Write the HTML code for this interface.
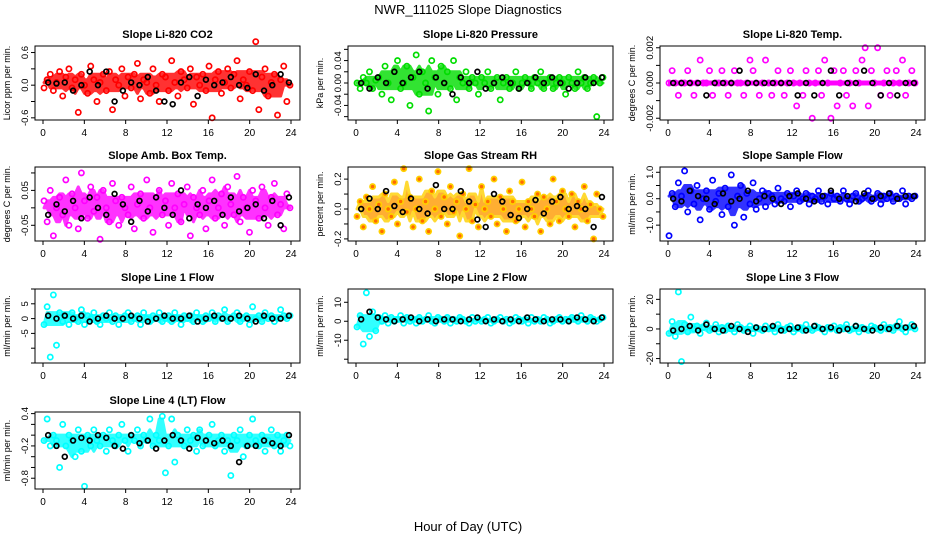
<!DOCTYPE html>
<html><head><meta charset="utf-8"><style>
body{margin:0;background:#fff}
svg{display:block;font-family:"Liberation Sans",Arial,sans-serif}
</style></head><body>
<svg id="chart" width="936" height="540" viewBox="0 0 936 540">
<text x="468" y="14" text-anchor="middle" font-size="13">NWR_111025  Slope Diagnostics</text>
<text x="468" y="531" text-anchor="middle" font-size="13">Hour of Day (UTC)</text>
</svg>
<script>
// ---- data ----
const xTicks = [0,4,8,12,16,20,24];
const titles = ["Slope Li-820 CO2","Slope Li-820 Pressure","Slope Li-820 Temp.","Slope Amb. Box Temp.","Slope Gas Stream RH","Slope Sample Flow","Slope Line 1 Flow","Slope Line 2 Flow","Slope Line 3 Flow","Slope Line 4 (LT) Flow"];
const yTitles = ["Licor ppm per min.","kPa per min.","degrees C per min.","degrees C per min.","percent per min.","ml/min per min.","ml/min per min.","ml/min per min.","ml/min per min.","ml/min per min."];
const colors = ["#ff0000","#00dd00","#ff00ff","#ff00ff","#ffa500","#0000ff","#00ffff","#00ffff","#00ffff","#00ffff"];
const yDomains = [[-0.64,0.72],[-0.066,0.066],[-0.0021,0.0021],[-0.095,0.117],[-0.214,0.281],[-1.6,1.2],[-15,10],[-22,17],[-23,27],[-1.0,0.43]];
const yTickVals = [[-0.6,-0.3,0,0.3,0.6],[-0.06,-0.04,-0.02,0,0.02,0.04,0.06],[-0.002,-0.001,0,0.001,0.002],[-0.1,-0.05,0,0.05,0.1],[-0.2,-0.1,0,0.1,0.2],[-1,-0.5,0,0.5,1],[-15,-10,-5,0,5,10],[-20,-10,0,10],[-20,-10,0,10,20],[0.4,0.2,0,-0.2,-0.4,-0.6,-0.8]];
const yTickLabels = [["-0.6","","0.0","","0.6"],["","-0.04","","0.00","","0.04",""],["-0.002","","0.000","","0.002"],["","-0.05","","0.05",""],["-0.2","","0.0","","0.2"],["-1.0","","0.0","","1.0"],["","","-5","0","5",""],["","-10","0","10"],["-20","","0","","20"],["0.4","","","-0.2","","","-0.8"]];

const colored0 = [-0.05,0.1,0.2,-0.1,0.05,0.25,-0.2,0.15,0.3,-0.05,0.1,-0.5,0.2,0.0,-0.15,0.35,0.1,-0.3,0.05,0.2,-0.1,0.25,-0.45,0.1,0.0,0.3,-0.2,0.15,-0.05,0.2,0.4,-0.25,0.1,0.05,-0.15,0.3,0.0,-0.3,0.2,0.15,-0.1,0.45,0.05,-0.2,0.25,0.1,-0.05,0.3,-0.35,0.15,0.0,0.2,-0.1,0.35,-0.6,0.1,0.25,-0.15,0.05,0.3,-0.05,0.2,0.45,-0.25,0.1,0.0,0.25,-0.1,0.8,-0.45,0.15,0.3,-0.2,0.05,0.2,-0.55,0.1,0.35,-0.3,0.0];
const black0 = [0.05,0.03,0.05,-0.1,0.0,0.25,0.0,0.25,-0.3,-0.1,0.05,0.0,0.15,-0.1,-0.3,-0.35,0.05,0.15,-0.2,0.1,0.0,0.05,0.15,0.0,-0.05,0.2,-0.1,0.0,0.2,0.05];
const colored1 = [0.0,-0.01,0.01,0.0,0.02,-0.01,0.005,0.01,-0.02,0.03,0.0,-0.03,0.02,0.04,-0.01,0.0,0.03,-0.04,0.01,0.05,-0.02,0.02,0.0,-0.05,0.04,0.01,-0.02,0.03,0.0,0.02,-0.01,0.04,-0.03,0.01,0.0,0.02,-0.01,0.01,0.0,-0.02,0.01,0.0,0.02,-0.01,0.0,0.01,-0.03,0.0,0.01,-0.01,0.0,0.02,-0.01,0.0,0.01,0.0,-0.01,0.01,0.0,0.02,-0.01,0.0,0.01,-0.01,0.0,0.01,0.0,-0.02,0.01,0.0,-0.01,0.02,0.0,0.01,-0.01,0.0,0.01,-0.06,0.0,0.01];
const black1 = [0.0,-0.01,0.01,0.0,0.02,0.0,0.01,0.02,-0.01,0.01,0.0,-0.02,0.01,0.0,0.02,-0.01,0.0,0.01,0.0,-0.01,0.0,0.01,0.0,0.01,0.0,-0.01,0.0,0.01,0.0,0.01];
const colored2 = [0,0.0007,0,-0.0007,0,0,0.0007,0,-0.0007,0,0.0013,0,0,0.0007,-0.0007,0,0,0.0007,0,-0.0007,0,0.0007,0,0,-0.0007,0,0.0013,0.0007,0,-0.0007,0,0.0013,0,-0.0007,0,0.0007,0,-0.0007,0,0.0007,0,-0.0013,0,-0.0007,0.0007,0,-0.002,0,0.0007,-0.0007,0.0013,0,-0.002,0.0007,-0.0013,0,0.0007,-0.0007,0,-0.0013,0.0007,0,0.0013,0.002,-0.0013,0.0007,0,0.002,-0.0007,0,0.0007,-0.0007,0,0.0007,0,0.0013,-0.0007,0,0.0007,0];
const black2 = [0,0,0,0,-0.0007,0,0,0,0.0007,0,0,0,0,0,0,-0.0007,0,-0.0007,0,0.0007,-0.0007,0,0,0.0007,0,-0.0007,0,-0.0007,0,0];
const colored3 = [0.02,-0.04,0.05,-0.08,0.0,0.03,-0.02,0.08,-0.05,0.04,0.0,-0.06,0.1,0.02,-0.03,0.06,-0.01,0.03,-0.09,0.05,0.0,-0.04,0.07,0.02,-0.05,0.03,0.0,-0.02,0.06,-0.06,0.01,0.04,-0.03,0.08,0.0,-0.07,0.03,0.05,-0.02,0.02,-0.05,0.07,0.0,0.04,-0.04,0.01,0.06,-0.08,0.03,0.0,-0.02,0.05,-0.06,0.02,0.08,-0.03,0.0,0.04,-0.05,0.06,0.01,-0.02,0.09,-0.04,0.03,0.0,-0.07,0.05,0.02,-0.03,0.06,0.0,-0.05,0.03,0.07,-0.02,0.01,-0.06,0.04,0.0];
const black3 = [-0.02,0.01,-0.01,0.02,-0.03,0.03,0.0,-0.02,0.04,0.01,-0.04,0.02,-0.01,0.03,0.0,-0.02,0.05,-0.03,0.01,0.0,0.02,-0.02,0.03,-0.01,0.0,0.01,-0.03,0.02,-0.05,0.03];
const colored4 = [-0.05,0.05,-0.12,0.08,0.0,0.15,-0.08,0.03,-0.15,0.1,0.0,-0.05,0.18,-0.1,0.05,0.27,-0.02,0.08,-0.12,0.0,0.2,-0.08,0.05,-0.15,0.12,0.0,0.25,-0.05,0.08,-0.1,0.15,-0.02,0.05,-0.18,0.1,0.0,0.27,-0.08,0.03,-0.12,0.15,0.0,0.05,-0.05,0.2,-0.1,0.08,0.0,-0.15,0.12,0.05,-0.08,0.0,0.18,-0.12,0.05,0.0,-0.05,0.1,-0.15,0.08,0.0,-0.1,0.2,0.05,-0.08,0.12,0.0,-0.05,0.1,-0.12,0.05,0.0,0.15,-0.08,0.03,-0.2,0.1,0.0,-0.05];
const black4 = [0.0,0.07,0.0,0.12,0.02,-0.02,0.07,0.0,-0.03,0.16,0.0,0.0,0.12,0.05,-0.07,-0.12,0.1,0.05,-0.04,-0.06,0.0,0.06,-0.03,0.05,0.08,0.0,0.02,0.0,-0.12,0.08];
const colored5 = [-1.4,0.2,-0.3,0.6,0.1,1.05,-0.5,0.3,-0.2,0.5,-0.8,0.0,0.3,-0.4,0.7,-0.1,0.2,-0.6,0.4,-0.3,0.9,-1.0,0.1,0.5,-0.7,0.2,-0.2,0.6,-0.4,0.0,0.3,-0.3,0.2,0.1,-0.2,0.4,0.0,-0.1,0.2,-0.3,0.1,0.3,-0.1,0.0,0.2,-0.2,0.1,0.0,0.3,-0.1,0.1,-0.2,0.2,0.0,0.1,-0.1,0.3,0.0,-0.2,0.1,0.2,-0.1,0.0,0.1,0.3,-0.1,0.0,0.2,-0.2,0.1,0.0,0.2,-0.1,0.1,0.0,0.3,-0.2,0.1,0.0,0.1];
const black5 = [0.0,-0.1,0.3,0.1,0.0,-0.2,0.2,-0.1,0.0,0.3,-0.1,0.1,0.0,-0.2,0.1,0.2,0.0,-0.1,0.1,0.3,0.0,0.1,-0.1,0.2,0.0,0.1,0.2,0.0,0.1,0.1];
const colored6 = [-2,4,-13,8,-9,2,-1,1,-2,2,0,-1,3,-2,1,0,2,-1,-2,1,0,2,-1,1,-2,0,1,2,-1,0,1,-2,2,0,-1,1,0,2,-1,0,1,-1,2,0,-2,1,0,1,-1,2,0,-1,1,0,2,-1,1,0,3,-1,0,1,2,-1,0,1,-2,4,0,1,-1,2,0,1,-1,0,3,1,0,1];
const black6 = [1,0,1,0,1,-1,0,1,0,0,1,0,-1,0,1,0,0,1,-1,0,1,0,0,1,0,-1,1,0,0,1];
const colored7 = [-3,3,-12,15,-8,5,-5,2,0,3,-1,2,0,1,3,-1,2,0,1,-1,2,0,1,3,0,-1,2,1,0,2,-1,1,0,2,1,0,-1,2,0,1,0,1,2,-1,0,1,2,0,1,-1,0,2,1,0,1,-1,2,0,1,0,2,1,-1,0,1,2,0,1,0,2,1,0,3,1,0,2,1,0,1,2];
const black7 = [1,5,2,1,0,1,2,0,1,0,1,1,0,1,2,0,1,0,1,0,2,1,0,1,1,0,2,1,0,2];
const colored8 = [-3,5,-5,25,-22,3,-2,8,0,2,-3,1,4,-1,0,3,-2,1,-1,2,0,-2,3,1,-1,0,2,-3,1,0,-1,2,0,1,-2,3,0,-1,1,2,-2,0,1,-1,3,0,-1,2,1,0,-2,1,0,2,-1,1,0,3,-1,0,2,-2,1,0,-1,2,1,0,-1,3,0,1,-1,2,5,0,-2,1,3,0];
const black8 = [-1,0,2,-1,3,0,-1,2,0,-2,1,0,2,-1,0,1,-1,2,0,1,-1,0,2,0,-1,1,0,2,1,2];
const colored9 = [-0.1,0.3,-0.2,0.0,-0.1,-0.6,0.2,-0.2,0.0,-0.1,-0.4,0.1,-0.3,-0.95,0.0,-0.2,0.1,-0.1,-0.2,0.0,-0.3,0.1,-0.1,-0.2,0.0,0.2,-0.1,-0.3,0.0,-0.1,0.1,-0.2,0.0,-0.1,0.3,-0.2,0.0,-0.1,0.35,-0.7,-0.2,0.3,-0.5,0.0,-0.1,-0.2,0.1,-0.1,0.0,-0.3,0.1,-0.2,-0.1,0.0,0.2,-0.2,-0.1,0.0,-0.3,-0.1,-0.75,0.0,-0.1,0.1,-0.4,-0.2,0.0,0.3,-0.1,-0.2,0.0,-0.3,-0.1,0.1,-0.2,0.0,-0.3,-0.1,0.0,-0.2];
const black9 = [0.0,-0.2,-0.4,-0.1,-0.05,-0.1,0.0,-0.05,-0.2,-0.25,0.0,-0.15,-0.1,-0.25,-0.1,0.0,-0.1,-0.25,-0.05,-0.1,-0.15,-0.1,-0.2,-0.5,-0.2,-0.2,-0.1,-0.15,-0.2,0.0];
const coloredSeries = [colored0,colored1,colored2,colored3,colored4,colored5,colored6,colored7,colored8,colored9];
const blackSeries = [black0,black1,black2,black3,black4,black5,black6,black7,black8,black9];

// ---- layout ----
const NS = "http://www.w3.org/2000/svg";
const svg = document.getElementById('chart');
const colLeft = [35,348,660], boxW = 265;
const rowTop = [46,167,289,412], rowH = [74,74,74,77];
function el(tag, attrs, parent){const e=document.createElementNS(NS,tag);for(const k in attrs)e.setAttribute(k,attrs[k]);(parent||svg).appendChild(e);return e;}

coloredSeries.forEach((col, p) => {
  const c = p % 3, r = Math.floor(p / 3);
  const L = colLeft[c], T = rowTop[r], H = rowH[r], R = L + boxW, B = T + H;
  const g = el('g', {});
  
  
  const x0 = L + 8, x1 = R - 9;
  const xs = h => x0 + (x1 - x0) * h / 24;
  const dom = yDomains[p];
  const ys = v => B - (v - dom[0]) / (dom[1] - dom[0]) * H;
  const t = el('text', {x: (L + R) / 2, y: T - 8, 'text-anchor': 'middle', 'font-size': 11, 'font-weight': 'bold'}, g);
  t.textContent = titles[p];
  
  
  const yt = el('text', {transform: `translate(${L - 25},${(T + B) / 2}) rotate(-90)`, 'text-anchor': 'middle', 'font-size': 9}, g);
  yt.textContent = yTitles[p];
  
  
  const stroke = p === 4 ? '#ffd000' : colors[p];
  const hOf = i => 0.1 + 23.8 * i / (col.length - 1);
  if (p === 2) {
    const zl = el('line', {x1: xs(0), x2: xs(24), y1: ys(0), y2: ys(0), stroke: colors[p], 'stroke-width': 5}, g);
    
    
  } else {
    const up = [], lo = [];
    col.forEach((v, i) => {
      const w = col.slice(Math.max(0, i - 4), i + 5).slice().sort((a, b) => a - b);
      up.push([xs(hOf(i)), ys(w[w.length - 3])]);
      lo.push([xs(hOf(i)), ys(w[2])]);
    });
    const poly = up.concat(lo.reverse()).map(q => q.join(',')).join(' ');
    const env = el('polygon', {points: poly, fill: p === 4 ? '#ff9a00' : colors[p], opacity: 0.8, stroke: stroke, 'stroke-width': 3, 'stroke-linejoin': 'round'}, g);
    
    
  }
  const pts = el('g', {fill: 'none', 'stroke-width': 1.7}, g);
  
  
  col.forEach((v, i) => {
    const ci = el('circle', {cx: xs(hOf(i)), cy: ys(v), r: 2.6, stroke: stroke, fill: p === 4 ? '#ff6a00' : 'none'}, pts);
    
    
  });
  const bk = el('g', {fill: 'none', stroke: '#000', 'stroke-width': 1.7}, g);
  
  
  blackSeries[p].forEach((v, i) => {
    const h = 0.5 + 23.3 * i / (blackSeries[p].length - 1);
    const ci = el('circle', {cx: xs(h), cy: ys(v), r: 2.4}, bk);
    
    
  });
  const bx = el('rect', {x: L, y: T, width: boxW, height: H, fill: 'none', stroke: '#000', 'stroke-width': 1}, g);
  
  
  xTicks.forEach(h => {
    el('line', {x1: xs(h), x2: xs(h), y1: B, y2: B + 4, stroke: '#000'}, g);
    const tl = el('text', {x: xs(h), y: B + 16, 'text-anchor': 'middle', 'font-size': 10}, g);
    tl.textContent = h;
    
    
  });
  yTickVals[p].forEach((v, i) => {
    const y = ys(v);
    if (y < T - 1 || y > B + 1) return;
    el('line', {x1: L - 4, x2: L, y1: y, y2: y, stroke: '#000'}, g);
    const lab = yTickLabels[p][i];
    if (lab) {
      const tl = el('text', {transform: `translate(${L - 7},${y}) rotate(-90)`, 'text-anchor': 'middle', 'font-size': 9.5}, g);
      tl.textContent = lab;
      
      
    }
  });
});
</script>
</body></html>
